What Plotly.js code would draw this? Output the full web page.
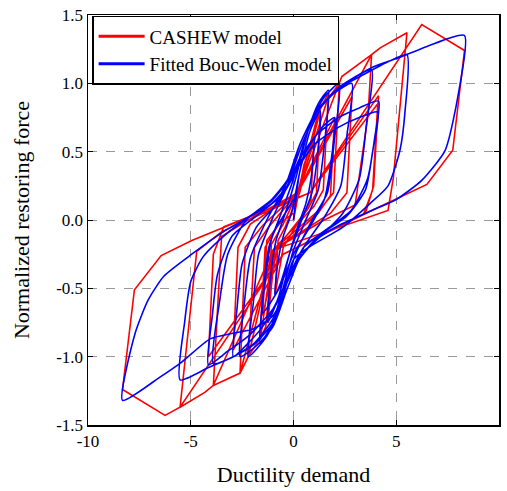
<!DOCTYPE html>
<html>
<head>
<meta charset="utf-8">
<script src="https://cdn.plot.ly/plotly-3.0.1.min.js"></script>
<style>html,body{margin:0;padding:0;background:#fff;}#chart{width:507px;height:491px;}</style>
</head>
<body>
<div id="chart"></div>
<script>
// CASHEW model path (ductility demand, normalized restoring force)
const redX = [0,0.5,1.0,0.85,0.5,-0.5,-0.9,-0.75,-0.4,0.3,1.3,1.12,0.7,-0.9,-1.25,-1.08,-0.5,0.2,1.2,1.7,1.45,1.0,-1.0,-1.35,-1.63,-1.38,-0.8,0.2,1.65,2.23,1.95,1.3,-1.0,-1.6,-2.2,-1.9,-1.2,0.2,2.84,2.6,1.8,-1.0,-2.2,-2.6,-2.35,-1.5,0.2,2.35,3.8,3.63,3.0,1.5,-1.0,-2.6,-3.9,-3.5,-2.2,0.2,3.8,4.22,5.52,4.86,4.6,-1.0,-3.9,-4.3,-5.52,-4.71,-3.49,0.8,6.24,8.32,7.75,6.49,3.81,-0.5,-5.52,-6.25,-8.32,-7.74,-6.44,-4.95,-2.19,0.8,4.14,3.9,3.5,-0.5,-4.14,-3.9,-3.4,0.8,4.1,3.85,3.4,-0.5,-2.93,-2.7,-2.1,0.2,2.0,1.8,1.2,-0.8,-1.5,-1.3,-0.7,0];
const redY = [0,0.4,0.62,0.15,0.05,-0.2,-0.55,-0.15,-0.05,0.2,0.8,0.2,0.08,-0.22,-0.75,-0.18,-0.03,0.2,0.78,0.93,0.22,0.1,-0.22,-0.78,-0.88,-0.2,-0.05,0.2,0.88,1.0,0.2,0.08,-0.22,-0.86,-1.0,-0.2,-0.05,0.2,0.9,0.2,0.05,-0.22,-1.0,-1.12,-0.2,-0.04,0.2,1.05,1.21,0.77,0.11,0.0,-0.22,-1.12,-1.21,-0.12,0.0,0.2,1.21,1.26,1.37,0.31,0.07,-0.22,-1.21,-1.26,-1.37,-0.23,-0.085,0.2,1.43,1.24,0.51,0.26,0.07,-0.25,-1.37,-1.43,-1.24,-0.51,-0.26,-0.15,0.02,0.2,0.91,0.25,0.05,-0.25,-1.0,-0.25,-0.05,0.2,0.85,0.22,0.04,-0.25,-0.95,-0.2,-0.03,0.2,0.75,0.18,0.05,-0.22,-0.7,-0.15,-0.03,0.05];

// Fitted Bouc-Wen model path
const blueX = [0,0.3,0.6,1.0,0.85,0.6,0.2,-0.3,-0.6,-0.9,-0.75,-0.5,-0.1,0.3,0.8,1.3,1.15,0.9,0.4,-0.2,-0.7,-1.25,-1.1,-0.85,-0.4,0.1,0.7,1.2,1.7,1.5,1.2,0.6,0,-0.6,-1.1,-1.63,-1.45,-1.2,-0.6,0,0.8,1.5,2.23,2.0,1.65,0.9,0.1,-0.6,-1.3,-2.2,-1.95,-1.7,-1.0,-0.3,0.4,1.2,2.0,2.84,2.6,2.3,1.5,0.5,-0.3,-1.0,-1.8,-2.6,-2.4,-2.1,-1.3,-0.4,0.3,1.13,2.26,3.8,3.55,3.2,2.4,0.8,0,-0.41,-0.99,-1.9,-2.93,-3.9,-3.6,-3.2,-2.3,-1.06,-0.27,0.3,1.13,2.26,3.24,4.5,5.52,5.43,5.18,4.6,3.72,2.42,0.8,0,-0.41,-0.99,-2.0,-2.93,-4.14,-5.52,-5.3,-5.0,-4.4,-3.25,-2.2,-1.06,-0.27,0.3,1.13,2.26,3.87,5.18,6.5,8.32,8.03,7.38,6.24,5.0,3.81,2.2,1.06,0.27,-0.3,-1.0,-2.0,-3.0,-4.06,-5.44,-6.5,-8.32,-7.71,-7.07,-6.3,-4.95,-3.25,-2.2,-1.06,-0.3,0.3,1.1,2.2,3.2,4.14,3.95,3.6,2.8,1.5,0.5,-0.2,-1.0,-2.2,-3.2,-4.14,-3.95,-3.7,-3.0,-1.8,-0.6,0.2,1.0,2.2,3.2,4.1,3.85,3.5,2.6,1.2,0.2,-0.6,-1.5,-2.2,-2.93,-2.75,-2.5,-1.8,-0.8,0,0.8,1.4,2.0,1.8,1.5,0.8,0,-0.7,-1.5,-1.3,-1.0,-0.4,0];
const blueY = [0,0.35,0.5,0.6,0.3,0.12,-0.05,-0.3,-0.45,-0.55,-0.3,-0.12,0.05,0.35,0.65,0.8,0.45,0.2,0.0,-0.25,-0.55,-0.75,-0.4,-0.15,0.05,0.3,0.65,0.85,0.95,0.55,0.22,0.0,-0.22,-0.55,-0.78,-0.9,-0.5,-0.2,0.05,0.3,0.7,0.9,1.0,0.6,0.2,0.0,-0.25,-0.6,-0.85,-1.0,-0.6,-0.25,0.02,0.25,0.55,0.8,0.93,1.0,0.62,0.25,0.02,-0.2,-0.5,-0.78,-0.92,-1.0,-0.62,-0.28,0.0,0.25,0.55,0.8,0.97,1.1,0.7,0.3,0.05,-0.19,-0.29,-0.49,-0.72,-0.9,-1.0,-1.05,-0.6,-0.25,0.0,0.15,0.3,0.55,0.8,0.97,1.05,1.15,1.21,0.8,0.51,0.25,0.12,-0.05,-0.195,-0.29,-0.49,-0.75,-0.92,-1.0,-1.08,-1.17,-0.75,-0.45,-0.27,-0.1,0.02,0.14,0.29,0.55,0.8,0.975,1.12,1.19,1.27,1.35,0.93,0.51,0.29,0.15,0.07,-0.04,-0.15,-0.29,-0.5,-0.7,-0.8,-0.83,-0.87,-1.04,-1.15,-1.32,-0.83,-0.585,-0.41,-0.25,-0.07,0.02,0.12,0.25,0.45,0.62,0.75,0.82,0.87,0.6,0.3,0.07,-0.08,-0.2,-0.4,-0.65,-0.85,-0.96,-1.06,-0.7,-0.4,-0.12,0.03,0.18,0.38,0.55,0.68,0.75,0.79,0.5,0.22,0.03,-0.12,-0.3,-0.55,-0.78,-0.9,-1.0,-0.65,-0.32,-0.05,0.12,0.32,0.55,0.68,0.75,0.4,0.15,-0.05,-0.25,-0.5,-0.68,-0.35,-0.1,0.05,0.15];

const seriesNames = ["CASHEW model", "Fitted Bouc-Wen model"];
const xTicks = [-10, -5, 0, 5, 10];
const xTickLabels = ["-10", "-5", "0", "5", "10"];
const yTicks = [-1.5, -1.0, -0.5, 0.0, 0.5, 1.0, 1.5];
const yTickLabels = ["-1.5", "-1.0", "-0.5", "0.0", "0.5", "1.0", "1.5"];

const FONT = "Liberation Serif";
const RED = "#ff0000", BLUE = "#0000ff";

const traces = [
  {x: redX, y: redY, mode: "lines", line: {color: RED, width: 1.6}, showlegend: false, hoverinfo: "skip"},
  {x: blueX, y: blueY, mode: "lines", line: {color: BLUE, width: 1.6, shape: "spline", smoothing: 0.6}, showlegend: false, hoverinfo: "skip"},
  {x: [null], y: [null], mode: "lines", name: seriesNames[0], line: {color: RED, width: 3}},
  {x: [null], y: [null], mode: "lines", name: seriesNames[1], line: {color: BLUE, width: 3}}
];

const axisCommon = {
  showline: true, linecolor: "#000", linewidth: 1.5, mirror: "ticks",
  ticks: "inside", ticklen: 5, tickwidth: 1, tickcolor: "#000",
  showgrid: true, gridcolor: "#9a9a9a", gridwidth: 1, griddash: "dash",
  zeroline: false, tickmode: "array",
  tickfont: {family: FONT, size: 17, color: "#000"}
};

const layout = {
  width: 507, height: 491,
  margin: {l: 88, r: 8, t: 15, b: 66},
  paper_bgcolor: "#fff", plot_bgcolor: "#fff",
  font: {family: FONT, color: "#000"},
  xaxis: Object.assign({}, axisCommon, {
    range: [-10, 10], tickvals: xTicks, ticktext: xTickLabels,
    title: {text: "Ductility demand", font: {family: FONT, size: 22, color: "#000"}, standoff: 16}
  }),
  yaxis: Object.assign({}, axisCommon, {
    range: [-1.5, 1.5], tickvals: yTicks, ticktext: yTickLabels,
    title: {text: "Normalized restoring force", font: {family: FONT, size: 22, color: "#000"}, standoff: 20}
  }),
  legend: {
    x: 0.01, y: 0.998, xanchor: "left", yanchor: "top",
    bgcolor: "#fff", bordercolor: "#000", borderwidth: 1.5,
    font: {family: FONT, size: 19, color: "#000"},
    itemwidth: 46, tracegroupgap: 0
  },
  showlegend: true
};

Plotly.newPlot("chart", traces, layout, {displayModeBar: false, staticPlot: true});
</script>
</body>
</html>
